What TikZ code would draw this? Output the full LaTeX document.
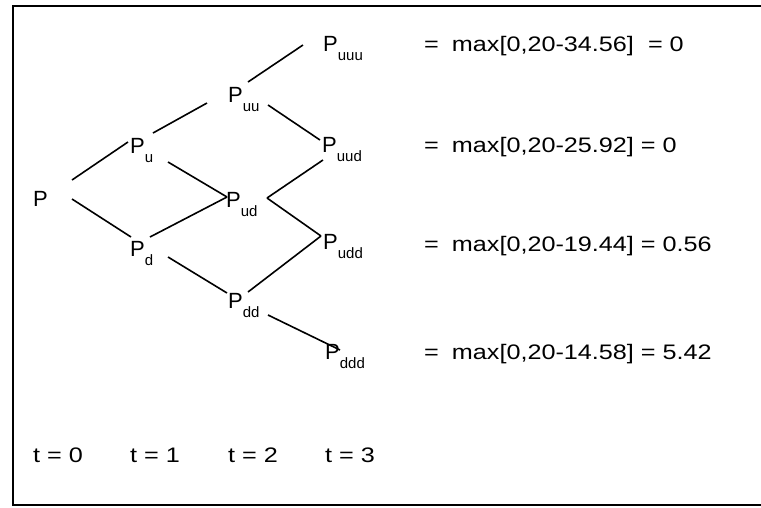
\documentclass[tikz,border=0pt]{standalone}
\usepackage{fontspec}
\setmainfont{Liberation Sans}
\newfontfamily\widesans[FakeStretch=1.2]{Liberation Sans}
\usetikzlibrary{calc}
% price symbol with a lowered path subscript
\newcommand\price[1]{P\raisebox{-9pt}{\fontsize{15}{15}\selectfont #1}}

\begin{document}
\begin{tikzpicture}[x=1pt,y=-1pt,
  state/.style={inner sep=0pt, anchor=base west, font=\fontsize{22}{26}\selectfont},
  payoff/.style={inner sep=0pt, anchor=base west, font=\widesans\fontsize{21}{25}\selectfont},
  branch/.style={line width=1.6pt},
  frame/.style={line width=1.6pt}]
\useasboundingbox (0,0) rectangle (761,507);
\fill[white] (0,0) rectangle (761,507);

% frame
\draw[frame] (762,6) -| (13,505) -- (762,505);

% lattice states
\node[state] (P)    at (33,206)  {P};
\node[state] (Pu)   at (130,153) {\price{u}};
\node[state] (Pd)   at (130,256) {\price{d}};
\node[state] (Puu)  at (228,102) {\price{uu}};
\node[state] (Pud)  at (226,207) {\price{ud}};
\node[state] (Pdd)  at (228,308) {\price{dd}};
\node[state] (Puuu) at (323,51)  {\price{uuu}};
\node[state] (Puud) at (322,152) {\price{uud}};
\node[state] (Pudd) at (323,249) {\price{udd}};
\node[state] (Pddd) at (325,359) {\price{ddd}};

% branches
\draw[branch] ($(P.base west)+(39,-26)$)   -- ($(Pu.base west)+(-2,-11)$);
\draw[branch] ($(P.base west)+(39,-7)$)    -- ($(Pd.base west)+(1,-19)$);
\draw[branch] ($(Pu.base west)+(23,-20)$)  -- ($(Puu.base west)+(-21,1)$);
\draw[branch] ($(Puu.base west)+(20,-20)$) -- ($(Puuu.base west)+(-20,-6)$);
\draw[branch] ($(Pu.base west)+(38,9)$)    -- ($(Pud.base west)+(1,-10)$);
\draw[branch] ($(Pd.base west)+(20,-19)$)  -- ($(Pud.base west)+(1,-10)$);
\draw[branch] ($(Puu.base west)+(40,3)$)   -- ($(Puud.base west)+(-2,-12)$);
\draw[branch] ($(Pud.base west)+(41,-9)$)  -- ($(Puud.base west)+(1,8)$);
\draw[branch] ($(Pud.base west)+(41,-9)$)  -- ($(Pudd.base west)+(-2,-13)$);
\draw[branch] ($(Pd.base west)+(38,1)$)    -- ($(Pdd.base west)+(-1,-15)$);
\draw[branch] ($(Pdd.base west)+(20,-16)$) -- ($(Pudd.base west)+(-2,-13)$);
\draw[branch] ($(Pdd.base west)+(40,7)$)   -- ($(Pddd.base west)+(15,-9)$);

% terminal payoffs
\node[payoff] (v1) at (424,51)  {=\hskip13pt max[0,20-34.56]\hskip14pt= 0};
\node[payoff] (v2) at (424,152) {=\hskip13pt max[0,20-25.92] = 0};
\node[payoff] (v3) at (424,251) {=\hskip13pt max[0,20-19.44] = 0.56};
\node[payoff] (v4) at (424,359) {=\hskip13pt max[0,20-14.58] = 5.42};

% time axis
\node[payoff] (t0) at (33,462)  {t = 0};
\node[payoff] (t1) at (130,462) {t = 1};
\node[payoff] (t2) at (228,462) {t = 2};
\node[payoff] (t3) at (325,462) {t = 3};
\end{tikzpicture}
\end{document}
